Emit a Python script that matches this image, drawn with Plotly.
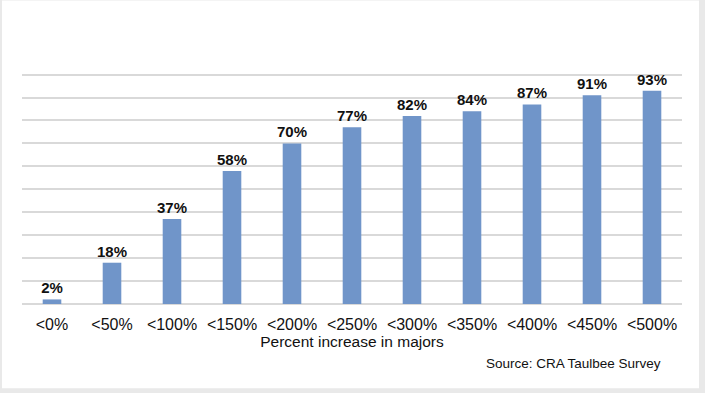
import plotly.graph_objects as go

categories = ["<0%", "<50%", "<100%", "<150%", "<200%", "<250%", "<300%", "<350%", "<400%", "<450%", "<500%"]
values = [2, 18, 37, 58, 70, 77, 82, 84, 87, 91, 93]
labels = [f"{v}%" for v in values]
grid_ticks = list(range(0, 101, 10))

W, H = 705, 393
YMAX = 102
unit = 229 / 100.0
L, R, B = 22, 23, 89
T = 75 - (YMAX - 100) * unit
pw, ph = W - L - R, H - T - B

fig = go.Figure(go.Bar(
    x=categories, y=values, text=labels, textposition="outside",
    constraintext="none",
    textfont=dict(family="Liberation Sans", size=15, color="#111111", weight="bold"),
    marker=dict(color="#7095C9", line=dict(width=0)),
    width=0.31, cliponaxis=False,
))

def px2x(p):
    return (p - L) / pw

def px2y(p):
    return (H - B - p) / ph

fig.add_shape(type="rect", xref="paper", yref="paper", layer="below",
              x0=px2x(2), x1=px2x(699), y0=px2y(388), y1=px2y(1),
              fillcolor="white", line=dict(width=0))

fig.add_annotation(text="Source: CRA Taulbee Survey", xref="paper", yref="paper",
                   x=px2x(573), y=px2y(363), xanchor="center", yanchor="middle", showarrow=False,
                   font=dict(family="Liberation Sans", size=13.5, color="#111111"))

fig.update_layout(
    width=W, height=H, margin=dict(l=L, r=R, t=T, b=B, autoexpand=False),
    paper_bgcolor="#E9E9E9", plot_bgcolor="white", showlegend=False,
    font=dict(family="Liberation Sans", color="#111111"),
    xaxis=dict(showgrid=False, showline=False, ticks="outside", ticklen=6, tickcolor="rgba(0,0,0,0)",
               automargin=False,
               tickfont=dict(size=16, color="#111111"),
               title=dict(text="Percent increase in majors", font=dict(size=15.5, color="#111111"), standoff=0)),
    yaxis=dict(range=[0, YMAX], tickvals=grid_ticks, showticklabels=False, showgrid=True,
               automargin=False,
               gridcolor="#D9D9D9", gridwidth=1.5, zeroline=True, zerolinecolor="#D9D9D9", zerolinewidth=1.5),
)

fig.write_html("out.html", config={"displayModeBar": False},
               post_script="document.body.style.margin='0';document.body.style.overflow='hidden';")
